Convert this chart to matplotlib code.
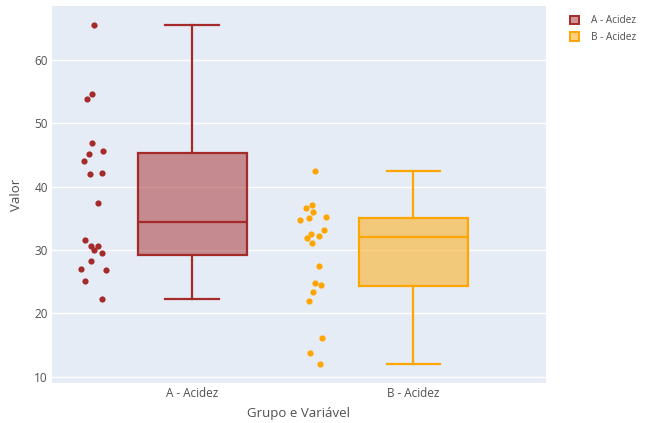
import numpy as np
import matplotlib.pyplot as plt
from matplotlib.patches import Patch
from matplotlib.colors import to_rgba

plt.rcParams["font.family"] = ["Open Sans", "DejaVu Sans"]

categories = ["A - Acidez", "B - Acidez"]

valores_a = [65.53, 54.63, 53.9, 46.84, 45.63, 45.16, 44.0, 42.0, 42.1, 37.37,
             31.58, 30.68, 30.58, 30.05, 29.58, 28.31, 26.95, 26.84, 25.05, 22.21]
valores_b = [42.42, 37.15, 36.63, 36.0, 35.26, 34.74, 35.0, 33.1, 32.53, 32.16,
             31.84, 31.05, 27.47, 24.73, 24.53, 23.37, 21.95, 16.16, 13.68, 12.05]

# horizontal spread of the scatter points, relative to each category slot
jitter_a = [-0.442, -0.454, -0.475, -0.451, -0.403, -0.464, -0.487, -0.460, -0.409, -0.425,
            -0.482, -0.458, -0.424, -0.442, -0.409, -0.458, -0.502, -0.387, -0.482, -0.409]
jitter_b = [-0.442, -0.458, -0.484, -0.454, -0.394, -0.513, -0.473, -0.404, -0.460, -0.427,
            -0.481, -0.458, -0.428, -0.443, -0.419, -0.451, -0.472, -0.412, -0.466, -0.422]

cores = ["#A52A2A", "#FFA500"]
bg = "#E5ECF6"
txt = "#505050"

fig = plt.figure(figsize=(6.45, 4.23), dpi=100)
ax = fig.add_axes([52 / 645, 1 - 383 / 423, (546 - 52) / 645, (383 - 6) / 423])
ax.set_facecolor(bg)

dados = [valores_a, valores_b]
jitters = [jitter_a, jitter_b]
pos = np.arange(len(categories))

for i, (vals, jit, cor) in enumerate(zip(dados, jitters, cores)):
    bp = ax.boxplot(vals, positions=[pos[i]], widths=0.493, patch_artist=True,
                    showfliers=False, whis=1.5, capwidths=0.24, zorder=3)
    for b in bp["boxes"]:
        b.set_facecolor(to_rgba(cor, 0.5))
        b.set_edgecolor(cor)
        b.set_linewidth(1.6)
    for key in ("whiskers", "caps", "medians"):
        for ln in bp[key]:
            ln.set_color(cor)
            ln.set_linewidth(1.6)
    ax.scatter(pos[i] + np.array(jit), vals, s=20, color=cor, zorder=4, linewidths=0)

ax.set_xlim(-0.633, 1.60)
ax.set_ylim(9.0, 68.5)
ax.set_xticks(pos)
ax.set_xticklabels(categories)
ax.set_yticks([10, 20, 30, 40, 50, 60])
ax.tick_params(length=0, labelsize=8.5, colors=txt)
ax.tick_params(axis="y", pad=3)
ax.tick_params(axis="x", pad=3)
ax.yaxis.grid(True, color="white", linewidth=1)
ax.set_axisbelow(True)
for s in ax.spines.values():
    s.set_visible(False)

ax.set_xlabel("Grupo e Variável", fontsize=9.5, color=txt, labelpad=5)
ax.set_ylabel("Valor", fontsize=9.5, color=txt, labelpad=8)

handles = [Patch(facecolor=to_rgba(c, 0.5), edgecolor=c, linewidth=1.4) for c in cores]
fig.legend(handles, categories, loc="upper left", bbox_to_anchor=(0.869, 0.985),
           frameon=False, fontsize=7.2, handlelength=0.95, handleheight=0.95,
           handletextpad=1.2, labelspacing=0.55, labelcolor=txt)

fig.savefig("out.png", dpi=100)
